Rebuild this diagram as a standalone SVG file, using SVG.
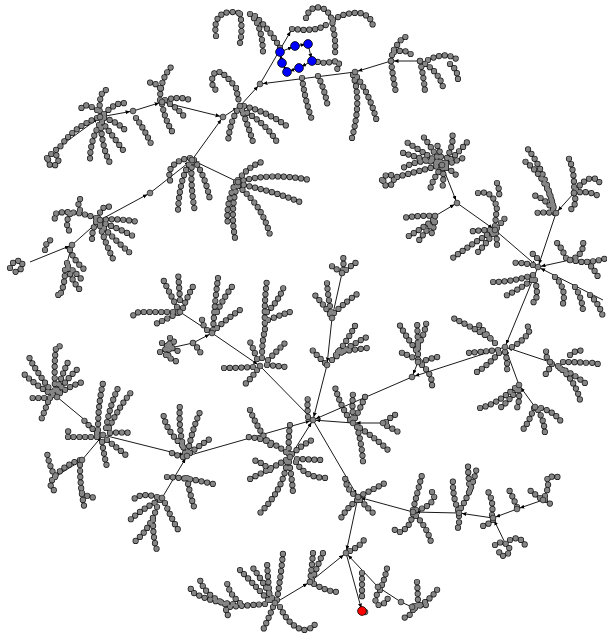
<svg xmlns="http://www.w3.org/2000/svg" xmlns:xlink="http://www.w3.org/1999/xlink" width="607" height="635" viewBox="0 0 607 635">
<style>
.e{fill:none;stroke:#000;stroke-width:0.9;marker-end:url(#ar)}
.k{fill:none;stroke:#1a1a1a;stroke-width:6.2;stroke-linecap:round;stroke-dasharray:0 5.8}
.g{fill:none;stroke:#858585;stroke-width:4.8;stroke-linecap:round;stroke-dasharray:0 5.8}
.n{fill:#858585;stroke:#1a1a1a;stroke-width:0.7}
.b{fill:#0000ff;stroke:#000;stroke-width:0.8}
.r{fill:#ff0000;stroke:#000;stroke-width:0.8}
</style>
<defs>
<marker id="ar" markerUnits="userSpaceOnUse" markerWidth="10" markerHeight="6" refX="7.5" refY="2" orient="auto"><path d="M0,0 L4.5,2 L0,4 z" fill="#000"/></marker>
<g id="chains">
<path d="M216,36 Q212,12 232,12 L240,13"/><path d="M240,14 Q243,28 240,43"/><path d="M250,14 Q262,24 263,52"/><path d="M255,16 Q270,30 280,48"/>
<path d="M292,29 L305,30 L318,29 L328,24"/><path d="M306,18 Q310,5 322,8 Q332,12 333,28 Q336,40 335,54"/><path d="M333,20 Q345,12 360,13 Q372,16 373,27"/>
<path d="M312,61 L325,63 L338,61 Q341,66 336,70"/><path d="M302,78 Q305,100 312,120"/><path d="M318,76 Q325,90 328,108"/><path d="M353,75 Q362,100 352,138"/><path d="M357,77 Q370,95 377,122"/>
<path d="M391,61 Q393,78 396,93"/><path d="M391,61 Q392,50 398,44 Q404,34 410,38"/><path d="M394,52 Q408,48 414,58"/><path d="M420,61 Q424,78 425,92"/><path d="M420,61 Q438,70 443,87"/><path d="M428,60 Q448,50 460,62"/><path d="M450,64 Q458,70 458,80"/>
<path d="M160,100 Q160,78 173,65"/><path d="M160,88 Q150,78 147,86"/><path d="M162,104 Q165,120 173,133"/><path d="M165,100 Q180,96 190,100"/><path d="M170,104 Q180,110 185,118"/>
<path d="M100,117 Q98,90 107,90"/><path d="M97,110 Q82,100 80,112"/><path d="M104,114 Q118,100 127,104"/><path d="M104,118 Q118,122 127,132"/><path d="M102,122 Q112,135 123,150"/><path d="M99,125 Q90,142 90,160"/><path d="M101,128 Q103,150 110,163"/><path d="M136,118 Q145,130 153,148"/><path d="M97,118 Q75,127 63,143 Q58,150 55,150"/><path d="M47,158 Q52,150 58,157 Q60,165 52,166 Q45,163 50,155"/>
<path d="M240,106 Q230,120 228,142"/><path d="M241,108 Q248,125 253,142"/><path d="M244,106 Q268,112 288,127"/><path d="M242,110 Q265,122 277,142"/><path d="M236,88 Q215,60 212,80 Q212,88 216,90"/><path d="M236,88 L239,102"/>
<path d="M192,160 Q180,175 178,210"/><path d="M192,162 Q190,185 195,212"/><path d="M194,160 Q205,175 210,200"/><path d="M190,158 Q175,160 170,170 Q168,178 172,185"/>
<path d="M238,182 Q270,172 310,180"/><path d="M238,184 Q270,190 300,202"/><path d="M238,186 Q262,205 270,235"/><path d="M237,186 Q230,210 235,238"/><path d="M238,180 Q250,165 262,162"/><path d="M236,182 Q225,205 228,225"/>
<path d="M100,220 Q120,218 138,222"/><path d="M100,222 Q118,228 133,236"/><path d="M100,224 Q115,240 130,253"/><path d="M100,226 Q106,245 115,263"/><path d="M98,218 Q102,204 110,207"/><path d="M96,218 Q75,210 57,213 Q52,216 56,220"/><path d="M70,214 Q64,224 70,232"/><path d="M96,222 Q92,230 92,240"/><path d="M80,210 Q76,200 82,198"/>
<path d="M70,250 Q75,262 85,270"/><path d="M67,263 Q70,280 82,292"/><path d="M65,270 Q65,285 60,295 Q56,298 60,292"/><path d="M68,266 Q78,275 82,280"/><path d="M10,268 Q14,258 22,262 Q24,270 15,272"/><path d="M45,250 Q46,240 52,240"/>
<path d="M442,165 Q420,150 403,140"/><path d="M442,165 Q420,158 400,152"/><path d="M440,162 Q430,145 422,135"/><path d="M442,163 Q440,150 437,145"/><path d="M444,163 Q455,145 452,132"/><path d="M446,163 Q462,150 470,138"/><path d="M446,165 Q458,160 463,158"/><path d="M442,167 Q432,180 430,190"/><path d="M443,168 Q444,180 442,190"/><path d="M446,168 Q455,172 458,178"/><path d="M442,165 Q415,172 397,177"/><path d="M382,180 Q386,172 393,176 Q396,184 388,186 Q380,185 385,178"/><path d="M432,160 Q410,162 400,170"/>
<path d="M555,213 Q545,170 527,148"/><path d="M553,205 Q545,175 523,160"/><path d="M553,210 Q545,198 533,195"/><path d="M555,213 Q545,212 535,213"/><path d="M574,193 Q575,168 567,155"/><path d="M574,193 Q590,190 600,197"/><path d="M574,193 Q578,205 570,210"/><path d="M576,190 Q585,178 593,178 Q600,180 600,185"/>
<path d="M490,230 Q480,230 467,232"/><path d="M492,232 Q470,245 450,260"/><path d="M493,234 Q485,245 477,253"/><path d="M495,226 Q496,215 497,207"/><path d="M497,228 Q502,222 505,218"/><path d="M496,233 Q497,240 497,246"/>
<path d="M435,216 Q420,215 403,218"/><path d="M433,220 Q420,230 407,237"/><path d="M434,222 Q425,232 417,243"/><path d="M435,222 Q433,230 430,238"/><path d="M478,193 Q492,190 496,205"/><path d="M497,183 Q500,190 499,200"/>
<path d="M533,265 Q520,262 510,263"/><path d="M537,258 Q532,252 528,252"/><path d="M533,275 Q512,282 492,282"/><path d="M532,280 Q515,292 503,297"/><path d="M535,280 Q540,300 532,303"/><path d="M570,260 Q585,255 583,240"/><path d="M566,258 Q560,245 557,243"/><path d="M570,260 L582,262 Q595,262 607,258"/><path d="M587,262 Q595,270 598,277"/><path d="M555,277 Q568,290 562,307"/><path d="M575,287 Q583,300 583,313"/><path d="M590,295 Q600,305 603,317"/>
<path d="M490,338 Q470,326 453,318"/><path d="M495,343 Q482,330 477,322"/><path d="M498,350 Q480,352 467,353"/><path d="M499,353 Q485,368 475,373"/><path d="M505,352 Q508,362 507,372"/><path d="M512,347 Q525,340 530,330 Q528,325 525,326"/>
<path d="M550,362 Q544,356 547,348"/><path d="M552,364 Q548,372 543,377"/><path d="M558,366 Q575,380 580,400"/><path d="M563,362 Q575,362 590,363 Q597,362 600,366"/><path d="M570,355 Q578,348 585,352"/><path d="M560,368 Q575,375 585,383"/>
<path d="M515,388 Q495,405 480,408"/><path d="M517,390 Q508,402 500,408"/><path d="M519,390 Q520,400 517,408"/><path d="M534,408 Q528,425 520,433"/><path d="M538,410 Q545,422 545,436"/><path d="M541,408 Q555,412 562,423"/>
<path d="M418,360 Q408,355 400,352"/><path d="M418,360 Q418,340 417,320"/><path d="M418,345 Q425,335 427,318"/><path d="M416,350 Q405,335 398,322"/><path d="M420,362 Q432,358 442,356"/><path d="M422,365 Q433,375 432,387"/>
<path d="M413,510 Q418,490 422,475"/><path d="M413,514 Q410,528 400,532 Q395,532 394,528"/><path d="M416,510 Q428,508 433,500 Q436,495 432,492"/><path d="M416,516 Q428,528 432,546"/>
<path d="M458,510 Q452,495 453,478"/><path d="M461,508 Q472,490 477,467"/><path d="M470,490 Q468,475 468,465"/><path d="M459,516 Q460,528 455,532"/><path d="M492,515 Q494,500 487,490"/><path d="M493,520 Q488,525 483,526"/>
<path d="M495,545 Q500,540 508,545 Q512,552 505,556 Q497,556 500,548"/><path d="M510,540 Q520,535 525,545"/><path d="M517,507 Q512,495 508,488"/><path d="M540,498 Q532,492 527,488"/><path d="M545,496 Q550,485 547,478 Q555,475 560,478"/><path d="M545,500 Q550,503 553,507"/>
<path d="M358,497 Q345,490 345,475"/><path d="M358,497 Q372,490 385,483"/><path d="M357,500 Q345,510 340,520"/><path d="M360,500 Q370,510 375,515"/>
<path d="M350,551 Q362,545 365,538"/><path d="M310,582 Q312,565 313,553"/><path d="M312,580 Q318,565 323,553"/><path d="M314,584 Q328,592 340,592"/><path d="M362,573 L362,600"/>
<path d="M382,585 Q386,575 388,563"/><path d="M380,590 Q372,600 378,605 Q385,605 388,598"/><path d="M417,582 Q418,595 418,607"/><path d="M413,610 Q408,620 400,617"/><path d="M415,608 Q432,600 440,585"/><path d="M414,606 Q422,605 428,605"/>
<path d="M270,600 Q268,580 267,562"/><path d="M272,598 Q262,580 253,568"/><path d="M277,600 Q281,575 283,553"/><path d="M268,600 Q250,580 237,567"/><path d="M265,604 Q240,606 228,607 Q223,612 230,617"/><path d="M240,603 Q230,595 227,583"/><path d="M233,604 Q210,602 192,592 Q190,588 190,583"/><path d="M225,604 Q205,595 200,580"/><path d="M273,607 Q268,620 263,630"/><path d="M280,607 Q290,628 305,630 Q315,628 317,620"/>
<path d="M308,417 Q307,405 308,395"/><path d="M350,420 Q340,405 335,387"/><path d="M353,418 Q352,405 353,393"/><path d="M355,418 Q362,405 367,392"/><path d="M357,427 Q362,445 363,462"/><path d="M360,428 Q378,440 390,452"/><path d="M386,422 Q392,415 400,413"/><path d="M387,426 Q395,430 400,433"/>
<path d="M286,452 Q268,438 247,437"/><path d="M289,454 Q288,440 290,425"/><path d="M292,454 Q302,445 312,440"/><path d="M297,459 L323,460"/><path d="M296,462 Q305,478 327,478"/><path d="M286,460 Q268,470 248,480"/><path d="M270,470 Q262,462 253,460"/><path d="M287,462 Q283,490 260,513"/><path d="M289,462 Q292,478 293,493"/><path d="M250,410 Q258,430 272,447"/>
<path d="M253,367 Q238,368 223,368"/><path d="M257,359 Q252,345 248,338"/><path d="M262,358 Q262,340 265,330 Q264,300 267,280"/><path d="M267,312 Q280,300 285,283"/><path d="M268,320 Q280,315 290,312"/><path d="M268,360 Q278,350 285,343"/><path d="M267,365 Q278,366 286,367"/><path d="M257,370 Q250,380 242,387"/>
<path d="M213,330 Q215,300 218,278"/><path d="M217,312 Q225,295 235,283"/><path d="M217,328 Q228,318 240,310"/><path d="M207,330 Q202,325 202,318"/>
<path d="M180,300 Q179,285 178,272"/><path d="M177,307 Q168,290 162,277"/><path d="M183,308 Q188,295 195,283"/><path d="M173,312 Q150,312 140,312 Q134,313 133,316"/><path d="M178,313 Q165,320 153,325"/>
<path d="M162,343 L180,352"/><path d="M170,338 L168,358"/><path d="M160,352 Q170,348 175,340"/><path d="M166,355 Q172,360 178,362"/><path d="M193,343 Q200,350 202,356"/>
<path d="M342,273 Q335,268 330,265"/><path d="M343,270 Q344,262 343,255"/><path d="M346,270 Q352,265 357,262"/><path d="M330,314 Q320,300 312,292"/><path d="M331,312 Q328,297 327,283"/><path d="M334,313 Q348,300 360,292"/>
<path d="M325,363 Q316,355 310,347"/><path d="M332,360 Q350,345 367,337"/><path d="M336,355 Q348,340 357,322"/><path d="M338,352 Q352,350 367,348"/>
<path d="M98,430 Q98,405 103,383"/><path d="M106,428 Q110,405 118,388"/><path d="M109,428 Q120,405 133,390"/><path d="M110,433 Q122,432 133,433"/><path d="M107,440 Q120,450 128,457"/><path d="M102,442 Q104,455 107,467"/><path d="M97,437 Q80,437 68,437 Q66,432 70,430"/><path d="M97,433 Q88,425 82,418"/>
<path d="M53,395 Q35,385 23,373"/><path d="M52,392 Q35,370 28,355"/><path d="M55,390 Q54,360 56,348 Q58,345 62,347"/><path d="M57,390 Q62,375 68,362"/><path d="M58,392 Q70,375 80,367"/><path d="M60,393 Q72,385 83,382"/><path d="M50,398 Q40,398 30,398"/><path d="M48,402 Q45,410 43,415 Q40,420 44,418"/>
<path d="M80,460 Q65,465 55,476 Q45,488 58,492"/><path d="M55,477 Q48,462 47,452"/><path d="M80,465 Q80,490 85,510"/><path d="M82,493 Q90,498 98,498"/>
<path d="M185,453 Q178,430 180,403"/><path d="M182,445 Q165,430 163,412"/><path d="M188,452 Q192,430 200,412"/><path d="M190,453 Q200,445 213,437"/><path d="M183,457 Q175,455 170,452"/><path d="M167,477 Q190,478 213,484"/><path d="M187,478 Q190,495 195,510"/>
<path d="M157,497 Q140,492 133,500"/><path d="M160,500 Q140,510 128,522"/><path d="M157,507 Q150,530 133,543"/><path d="M153,520 Q153,540 157,550"/><path d="M165,503 Q172,520 180,533"/>
</g>
</defs>
<g id="connectors">
<path class="e" d="M180,312 L212,333"/><path class="e" d="M170,348 L193,343 L212,333"/><path class="e" d="M212,333 L260,366"/><path class="e" d="M260,366 L313,420"/>
<path class="e" d="M342,273 L332,318"/><path class="e" d="M332,318 L327,365"/><path class="e" d="M327,365 L313,420"/>
<path class="e" d="M383,423 L353,423"/><path class="e" d="M353,423 L313,420"/>
<path class="e" d="M57,397 L103,435"/><path class="e" d="M50,480 L82,460 L103,435"/><path class="e" d="M103,435 L187,456"/><path class="e" d="M162,498 L187,456"/><path class="e" d="M187,456 L313,420"/>
<path class="e" d="M290,457 L313,420"/><path class="e" d="M313,420 L358,497"/>
<path class="e" d="M543,500 L517,509"/><path class="e" d="M517,509 L493,518"/><path class="e" d="M507,547 L493,518"/><path class="e" d="M493,518 L459,513"/><path class="e" d="M459,513 L413,512"/><path class="e" d="M413,512 L358,497"/>
<path class="e" d="M358,497 L346,553"/><path class="e" d="M275,603 L310,582"/><path class="e" d="M310,582 L346,553"/><path class="e" d="M412,607 L401,602 L378,587 L346,553"/><path class="e" d="M346,553 L362,611"/>
<path class="e" d="M397,177 L442,165"/><path class="e" d="M442,165 L457,203"/><path class="e" d="M435,216 L457,203"/><path class="e" d="M457,203 L495,230"/><path class="e" d="M495,230 L538,267"/>
<path class="e" d="M574,193 L556,213"/><path class="e" d="M556,213 L538,267"/><path class="e" d="M570,260 L538,267"/><path class="e" d="M603,300 L538,267"/><path class="e" d="M538,267 L505,347"/>
<path class="e" d="M550,362 L505,347"/><path class="e" d="M535,407 L519,385"/><path class="e" d="M519,385 L505,347"/><path class="e" d="M505,347 L412,377"/><path class="e" d="M418,362 L412,377"/><path class="e" d="M412,377 L313,420"/>
<path class="e" d="M420,61 L391,61"/><path class="e" d="M391,61 L355,72"/><path class="e" d="M355,72 L260,84"/><path class="e" d="M260,84 L292,29"/>
<path class="e" d="M30,262 L72,245"/><path class="e" d="M67,263 L72,245"/><path class="e" d="M72,245 L100,220"/><path class="e" d="M100,220 L150,193"/><path class="e" d="M150,193 L192,160"/><path class="e" d="M238,182 L192,160"/><path class="e" d="M192,160 L223,117"/><path class="e" d="M223,117 L240,106"/><path class="e" d="M240,106 L260,84"/>
<path class="e" d="M55,150 L100,117"/><path class="e" d="M100,117 L133,111"/><path class="e" d="M133,111 L162,102"/><path class="e" d="M162,102 L223,117"/>
<path class="e" d="M280,52 L295,46"/><path class="e" d="M295,46 L308,44"/><path class="e" d="M308,44 L312,61"/><path class="e" d="M312,61 L299,68"/><path class="e" d="M299,68 L287,72"/><path class="e" d="M287,72 L282,63"/><path class="e" d="M282,63 L280,52"/>
</g>
<g id="tree-nodes">
<use href="#chains" class="k"/>
<use href="#chains" class="g"/>
</g>
<g id="hubs">
<circle class="n" cx="313" cy="420" r="2.9"/><circle class="n" cx="260" cy="366" r="2.9"/><circle class="n" cx="212" cy="333" r="2.9"/><circle class="n" cx="180" cy="312" r="2.9"/><circle class="n" cx="193" cy="343" r="2.9"/>
<circle class="n" cx="327" cy="365" r="2.9"/><circle class="n" cx="332" cy="318" r="2.9"/><circle class="n" cx="342" cy="273" r="2.9"/><circle class="n" cx="353" cy="423" r="2.9"/><circle class="n" cx="383" cy="423" r="2.9"/>
<circle class="n" cx="187" cy="456" r="2.9"/><circle class="n" cx="103" cy="435" r="2.9"/><circle class="n" cx="57" cy="397" r="2.9"/><circle class="n" cx="82" cy="460" r="2.9"/><circle class="n" cx="162" cy="498" r="2.9"/><circle class="n" cx="290" cy="457" r="2.9"/>
<circle class="n" cx="358" cy="497" r="2.9"/><circle class="n" cx="346" cy="553" r="2.9"/><circle class="n" cx="310" cy="582" r="2.9"/><circle class="n" cx="275" cy="603" r="2.9"/><circle class="n" cx="378" cy="587" r="2.9"/><circle class="n" cx="401" cy="602" r="2.9"/><circle class="n" cx="412" cy="607" r="2.9"/><circle class="n" cx="365" cy="612" r="2.9"/>
<circle class="n" cx="413" cy="512" r="2.9"/><circle class="n" cx="459" cy="513" r="2.9"/><circle class="n" cx="493" cy="518" r="2.9"/><circle class="n" cx="517" cy="509" r="2.9"/><circle class="n" cx="543" cy="500" r="2.9"/>
<circle class="n" cx="412" cy="377" r="2.9"/><circle class="n" cx="418" cy="362" r="2.9"/><circle class="n" cx="505" cy="347" r="2.9"/><circle class="n" cx="550" cy="362" r="2.9"/><circle class="n" cx="519" cy="385" r="2.9"/><circle class="n" cx="535" cy="407" r="2.9"/>
<circle class="n" cx="538" cy="267" r="2.9"/><circle class="n" cx="556" cy="213" r="2.9"/><circle class="n" cx="574" cy="193" r="2.9"/><circle class="n" cx="570" cy="260" r="2.9"/><circle class="n" cx="495" cy="230" r="2.9"/><circle class="n" cx="457" cy="203" r="2.9"/><circle class="n" cx="442" cy="165" r="2.9"/><circle class="n" cx="435" cy="216" r="2.9"/>
<circle class="n" cx="260" cy="84" r="2.9"/><circle class="n" cx="240" cy="106" r="2.9"/><circle class="n" cx="223" cy="117" r="2.9"/><circle class="n" cx="162" cy="102" r="2.9"/><circle class="n" cx="133" cy="111" r="2.9"/><circle class="n" cx="100" cy="117" r="2.9"/><circle class="n" cx="192" cy="160" r="2.9"/><circle class="n" cx="150" cy="193" r="2.9"/><circle class="n" cx="100" cy="220" r="2.9"/><circle class="n" cx="72" cy="245" r="2.9"/><circle class="n" cx="238" cy="182" r="2.9"/><circle class="n" cx="355" cy="72" r="2.9"/><circle class="n" cx="391" cy="61" r="2.9"/><circle class="n" cx="420" cy="61" r="2.9"/>
</g>
<g id="cycle">
<circle class="b" cx="280" cy="52" r="4.4"/><circle class="b" cx="295" cy="46" r="4.4"/><circle class="b" cx="308" cy="44" r="4.4"/><circle class="b" cx="312" cy="61" r="4.4"/><circle class="b" cx="299" cy="68" r="4.4"/><circle class="b" cx="287" cy="72" r="4.4"/><circle class="b" cx="282" cy="63" r="4.4"/>
</g>
<g id="target"><circle class="r" cx="362" cy="611" r="4.4"/></g>
</svg>
